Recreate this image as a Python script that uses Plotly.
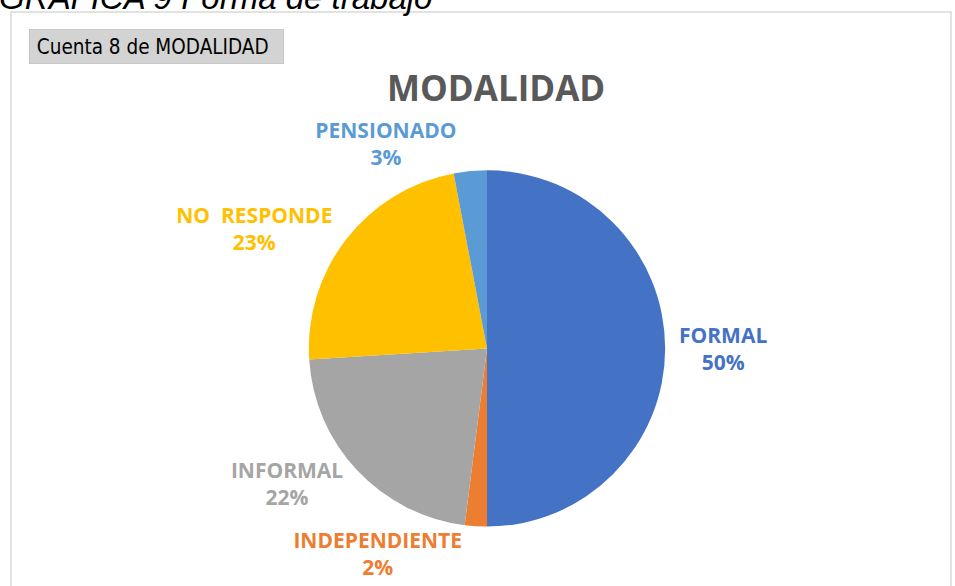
import plotly.graph_objects as go

labels = ["FORMAL", "INDEPENDIENTE", "INFORMAL", "NO  RESPONDE", "PENSIONADO"]
values = [50, 2, 22, 23, 3]
colors = ["#4472C4", "#ED7D31", "#A5A5A5", "#FFC000", "#5B9BD5"]

W, H = 955, 586

def px_x(x):
    return x / W

def px_y(y):
    return 1 - y / H

cx, cy, r = 487, 352, 180

fig = go.Figure(go.Pie(
    labels=labels,
    values=values,
    sort=False,
    direction="clockwise",
    rotation=0,
    marker=dict(colors=colors, line=dict(width=0)),
    texttemplate="%{label}<br>%{percent}",
    textposition="outside",
    outsidetextfont=dict(color=colors, size=21, family="Open Sans"),
    textfont=dict(color=colors, size=21, family="Open Sans"),
    showlegend=False,
    hoverinfo="label+percent",
    domain=dict(x=[px_x(cx - r), px_x(cx + r)], y=[px_y(cy + r), px_y(cy - r)]),
))

fig.update_traces(textfont_weight="bold")

fig.update_layout(
    width=W, height=H,
    margin=dict(l=0, r=0, t=0, b=0),
    paper_bgcolor="white",
    plot_bgcolor="white",
    shapes=[dict(type="rect", xref="paper", yref="paper",
                 x0=px_x(11), x1=px_x(951), y0=px_y(600), y1=px_y(12),
                 line=dict(color="#d9d9d9", width=1.5), fillcolor="rgba(0,0,0,0)")],
    annotations=[
        dict(text="<i>GRÁFICA 9 Forma de trabajo</i>", xref="paper", yref="paper",
             x=px_x(-3), y=px_y(18), xanchor="left", yanchor="bottom", showarrow=False,
             font=dict(family="Liberation Sans", size=33, color="#000000")),
        dict(text="&nbsp;Cuenta 8 de MODALIDAD", xref="paper", yref="paper",
             x=px_x(29), y=px_y(29), xanchor="left", yanchor="top", showarrow=False,
             font=dict(family="DejaVu Sans Condensed", size=20.5, color="#000000"),
             bgcolor="#d3d3d3", bordercolor="#c8c8c8", borderwidth=1, borderpad=1,
             width=251, height=31, align="left"),
        dict(text="<b>MODALIDAD</b>", xref="paper", yref="paper",
             x=px_x(496), y=px_y(88), xanchor="center", yanchor="middle", showarrow=False,
             font=dict(family="Open Sans", size=35, color="#595959")),
    ],
)

fig.write_html("out.html", config={"displayModeBar": False},
               post_script="document.body.style.margin='0';document.body.style.overflow='hidden';")
